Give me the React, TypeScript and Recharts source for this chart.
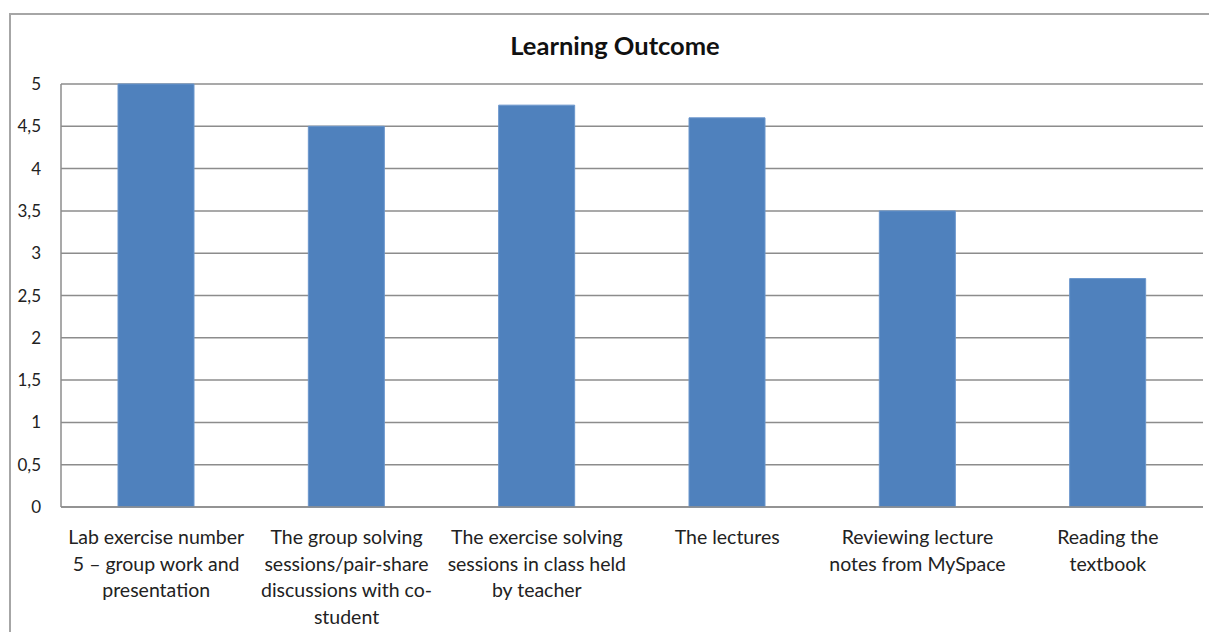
import { BarChart, Bar, XAxis, YAxis, CartesianGrid } from 'recharts';

const categories = [
  'Lab exercise number 5 – group work and presentation',
  'The group solving sessions/pair-share discussions with co-student',
  'The exercise solving sessions in class held by teacher',
  'The lectures',
  'Reviewing lecture notes from MySpace',
  'Reading the textbook',
];

// how each category label is broken into lines under the axis
const categoryLines = [
  ['Lab exercise number', '5 – group work and', 'presentation'],
  ['The group solving', 'sessions/pair-share', 'discussions with co-', 'student'],
  ['The exercise solving', 'sessions in class held', 'by teacher'],
  ['The lectures'],
  ['Reviewing lecture', 'notes from MySpace'],
  ['Reading the', 'textbook'],
];

const outcomeValues = [5, 4.5, 4.75, 4.6, 3.5, 2.7];

const yTicks = [0, 0.5, 1, 1.5, 2, 2.5, 3, 3.5, 4, 4.5, 5];

const data = categories.map((name, i) => ({ name, value: outcomeValues[i] }));

const FONT = 'Lato, "Open Sans", sans-serif';

function CategoryTick(props: any) {
  const { x, y, index } = props;
  const lines = categoryLines[index] || [];
  return (
    <g transform={`translate(${x},${y})`}>
      {lines.map((line: string, i: number) => (
        <text
          key={i}
          x={0}
          y={i * 26.7 + 29}
          textAnchor="middle"
          fontSize={19.5}
          fontFamily={FONT}
          fill="#222"
        >
          {line}
        </text>
      ))}
    </g>
  );
}

export default function App() {
  return (
    <div style={{ position: 'absolute', left: 0, top: 0, width: 1209, height: 632, background: '#fff', overflow: 'hidden' }}>
      <div
        style={{
          position: 'absolute',
          left: 9,
          top: 13,
          width: 1220,
          height: 640,
          border: '2px solid #a6a6a6',
          boxSizing: 'border-box',
        }}
      />
      <div
        style={{
          position: 'absolute',
          left: 0,
          top: 30,
          width: 1230,
          textAlign: 'center',
          fontFamily: FONT,
          fontWeight: 700,
          fontSize: 25.5,
          color: '#111',
        }}
      >
        Learning Outcome
      </div>
      <BarChart
        width={1209}
        height={632}
        data={data}
        margin={{ top: 84, right: 6, bottom: 5, left: 11 }}
        style={{ position: 'absolute', left: 0, top: 0 }}
      >
        <CartesianGrid vertical={false} stroke="#8c8c8c" strokeWidth={1.5} />
        <XAxis
          dataKey="name"
          axisLine={{ stroke: '#8c8c8c', strokeWidth: 1.5 }}
          tickLine={false}
          interval={0}
          height={120}
          tick={<CategoryTick />}
        />
        <YAxis
          width={50}
          domain={[0, 5]}
          ticks={yTicks}
          interval={0}
          axisLine={{ stroke: '#8c8c8c', strokeWidth: 1.5 }}
          tickLine={false}
          tickFormatter={(v: number) => String(v).replace('.', ',')}
          tick={{ fontSize: 17, fontFamily: FONT, fill: '#222', dx: -12 }}
        />
        <Bar dataKey="value" fill="#4f81bd" stroke="#6a96cc" strokeWidth={1} barSize={76} isAnimationActive={false} />
      </BarChart>
    </div>
  );
}
